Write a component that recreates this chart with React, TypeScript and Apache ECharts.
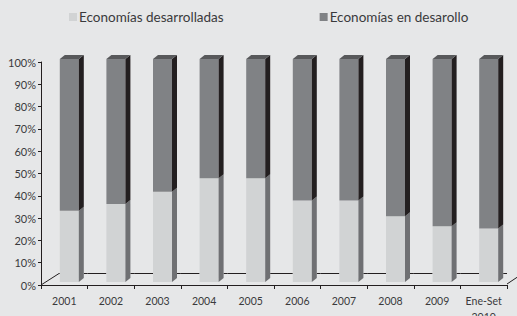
import React, { useEffect, useRef } from "react";
import * as echarts from "echarts";

const categories = ["2001", "2002", "2003", "2004", "2005", "2006", "2007", "2008", "2009", "Ene-Set\n2010"];
const developed = [32, 35, 40.5, 46.5, 46.5, 36.5, 36.5, 29.5, 25, 24];
const developing = [68, 65, 59.5, 53.5, 53.5, 63.5, 63.5, 70.5, 75, 76];
const yTicks = [0, 10, 20, 30, 40, 50, 60, 70, 80, 90, 100];

const BG = "#e6e7e8";
const LIGHT = "#d1d3d4";
const LIGHT_SIDE = "#6f7073";
const DARK = "#808285";
const DARK_SIDE = "#231f20";
const TOP = "#58595b";
const AXIS = "#231f20";
const TEXT = "#3a3a3c";
const FONT = "Lato, 'Open Sans', sans-serif";

const FRONT_OFF = -4.5;
const FRONT_W = 19;
const DX = 5;
const DY = 4;
const LIFT = 3;
const FLOOR_DX = 18;
const FLOOR_DY = 12;

function makeRender(isLight: boolean, front: string, side: string) {
  return (params: any, api: any) => {
    const i = api.value(0);
    const p0 = api.coord([i, api.value(1)]);
    const p1 = api.coord([i, api.value(2)]);
    const band = api.size([1, 0])[0];
    const x = p0[0] + FRONT_OFF;
    const yb = p0[1] - LIFT;
    const yt = p1[1] - LIFT;
    const children: any[] = [];
    if (isLight) {
      const base = api.coord([i, 0]);
      const yf = base[1] - FLOOR_DY + 0.5;
      const left = i === 0 ? base[0] - band / 2 + FLOOR_DX : base[0] - band / 2;
      const right = base[0] + band / 2;
      children.push(
        { type: "line", shape: { x1: left, y1: yf, x2: x, y2: yf }, style: { stroke: AXIS, lineWidth: 1 } },
        { type: "line", shape: { x1: x + FRONT_W + DX, y1: yf, x2: right, y2: yf }, style: { stroke: AXIS, lineWidth: 1 } }
      );
      if (i === 0) {
        children.push({
          type: "line",
          shape: { x1: base[0] - band / 2, y1: base[1], x2: left, y2: yf },
          style: { stroke: AXIS, lineWidth: 1 },
        });
      }
      if (i === categories.length - 1) {
        children.push({
          type: "line",
          shape: { x1: right, y1: base[1] - 1, x2: right + FLOOR_DX, y2: base[1] - 1 - FLOOR_DY },
          style: { stroke: AXIS, lineWidth: 1 },
        });
      }
    }
    children.push(
      {
        type: "rect",
        shape: { x, y: yt, width: FRONT_W, height: yb - yt },
        style: { fill: front },
      },
      {
        type: "polygon",
        shape: {
          points: [
            [x + FRONT_W, yt],
            [x + FRONT_W + DX, yt - DY],
            [x + FRONT_W + DX, yb - DY],
            [x + FRONT_W, yb],
          ],
        },
        style: { fill: side },
      }
    );
    if (!isLight) {
      children.push({
        type: "polygon",
        shape: {
          points: [
            [x, yt],
            [x + DX, yt - DY],
            [x + FRONT_W + DX, yt - DY],
            [x + FRONT_W, yt],
          ],
        },
        style: { fill: TOP },
      });
    }
    return { type: "group", children };
  };
}

export default function App() {
  const ref = useRef<HTMLDivElement>(null);
  useEffect(() => {
    if (!ref.current) return;
    const chart = echarts.init(ref.current, null, { renderer: "svg" });
    const lightData = developed.map((v, i) => [i, 0, v]);
    const darkData = developing.map((v, i) => [i, 100 - v, 100]);
    chart.setOption({
      animation: false,
      backgroundColor: BG,
      textStyle: { fontFamily: FONT },
      legend: {
        left: 69,
        top: 10,
        padding: 0,
        itemWidth: 8,
        itemHeight: 8,
        itemGap: 96,
        icon: "rect",
        textStyle: { fontFamily: FONT, fontSize: 13.5, color: TEXT, padding: [0, 0, 0, -3] },
        data: [
          { name: "Economías desarrolladas", itemStyle: { color: LIGHT } },
          { name: "Economías en desarollo", itemStyle: { color: DARK } },
        ],
      },
      grid: { left: 41, right: 10, top: 62, bottom: 31, containLabel: false, outerBoundsMode: "none" },
      xAxis: {
        type: "category",
        data: categories,
        boundaryGap: true,
        axisLine: { show: true, lineStyle: { color: AXIS, width: 1 } },
        axisTick: { show: true, length: 4, lineStyle: { color: AXIS } },
        axisLabel: { fontFamily: FONT, fontSize: 10.5, color: TEXT, margin: 8, interval: 0, lineHeight: 16 },
      },
      yAxis: {
        type: "value",
        min: 0,
        max: 100,
        interval: 10,
        splitLine: { show: false },
        axisLine: { show: true, lineStyle: { color: AXIS, width: 1 } },
        axisTick: { show: true, length: 3, lineStyle: { color: AXIS } },
        axisLabel: {
          fontFamily: FONT,
          fontSize: 11,
          color: TEXT,
          margin: 5,
          formatter: (v: number) => (yTicks.includes(v) ? v + "%" : ""),
        },
      },
      series: [
        {
          name: "Economías desarrolladas",
          type: "custom",
          z: 5,
          clip: false,
          renderItem: makeRender(true, LIGHT, LIGHT_SIDE),
          encode: { x: 0, y: [1, 2] },
          data: lightData,
          itemStyle: { color: LIGHT },
        },
        {
          name: "Economías en desarollo",
          type: "custom",
          z: 5,
          clip: false,
          renderItem: makeRender(false, DARK, DARK_SIDE),
          encode: { x: 0, y: [1, 2] },
          data: darkData,
          itemStyle: { color: DARK },
        },
      ],
    });
    return () => chart.dispose();
  }, []);
  return <div ref={ref} style={{ position: "fixed", left: 0, top: 0, width: 517, height: 316 }} />;
}
